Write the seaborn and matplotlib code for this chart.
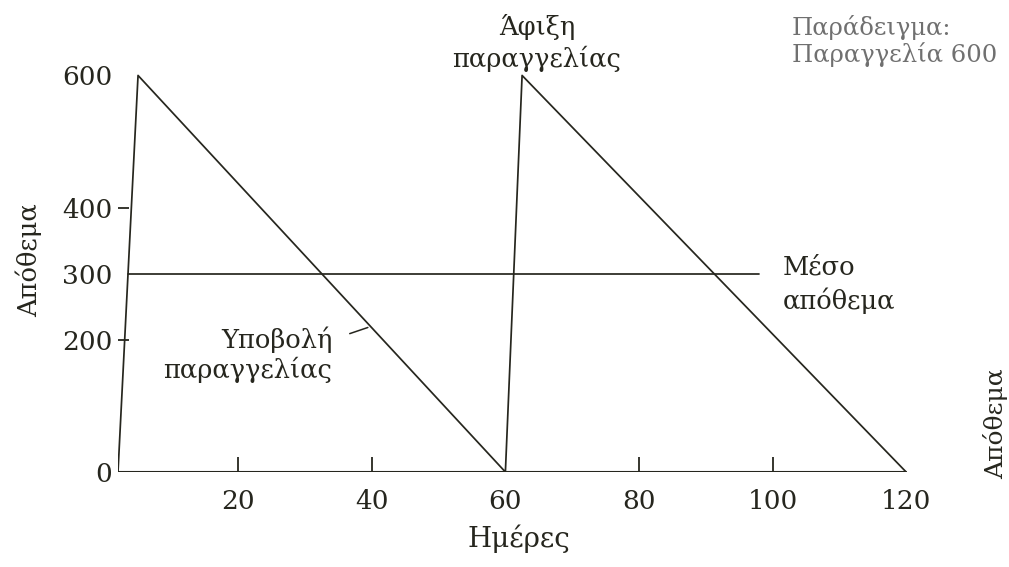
import numpy as np
import pandas as pd
import matplotlib
matplotlib.use("Agg")
import matplotlib.pyplot as plt
import seaborn as sns
from matplotlib.ticker import FixedLocator

# --- data ---
days = [2, 5, 60, 62.5, 120]
inventory = [0, 600, 0, 600, 0]
avg_days = [3.5, 98]
avg_level = [300, 300]
base_days = [2, 120]
base_level = [0, 0]
x_ticks = [20, 40, 60, 80, 100, 120]
x_tick_marks = [20, 40, 80, 100]
y_ticks = [0, 200, 300, 400, 600]
y_tick_marks = [200, 400]

sns.set_theme(style="white")
plt.rcParams["font.family"] = ["DejaVu Serif", "DejaVu Sans"]

ink = "#26261e"
fig = plt.figure(figsize=(10.09, 5.67), dpi=100)
ax = fig.add_axes([118 / 1009, 95 / 567, 801.5 / 1009, 423 / 567])

saw = pd.DataFrame({"Ημέρες": days, "Απόθεμα": inventory})
sns.lineplot(data=saw, x="Ημέρες", y="Απόθεμα", sort=False, ax=ax,
             color=ink, linewidth=1.25, estimator=None)
avg = pd.DataFrame({"x": avg_days, "y": avg_level})
sns.lineplot(data=avg, x="x", y="y", sort=False, ax=ax, color=ink,
             linewidth=1.25, estimator=None)
base = pd.DataFrame({"x": base_days, "y": base_level})
sns.lineplot(data=base, x="x", y="y", sort=False, ax=ax, color=ink,
             linewidth=1.5, estimator=None)

ax.set_xlim(2, 122)
ax.set_ylim(0, 640)
for s in ax.spines.values():
    s.set_visible(False)

ax.xaxis.remove_overlapping_locs = False
ax.yaxis.remove_overlapping_locs = False
ax.set_xticks(x_ticks)
ax.set_xticklabels([str(v) for v in x_ticks])
ax.set_yticks(y_ticks)
ax.set_yticklabels([str(v) for v in y_ticks])
ax.xaxis.set_minor_locator(FixedLocator(x_tick_marks))
ax.yaxis.set_minor_locator(FixedLocator(y_tick_marks))
ax.tick_params(axis="x", which="major", length=0, pad=12, labelsize=19, labelcolor=ink)
ax.tick_params(axis="y", which="major", length=0, pad=4, labelsize=19, labelcolor=ink)
ax.tick_params(axis="x", which="minor", direction="in", length=11, width=1.3,
               color=ink, bottom=True)
ax.tick_params(axis="y", which="minor", direction="in", length=8, width=1.3,
               color=ink, left=True)

ax.set_xlabel("Ημέρες", fontsize=20, color=ink, labelpad=8)
ax.set_ylabel("Απόθεμα", fontsize=18.5, color=ink, labelpad=14)

ax.text(64.7, 613, "Άφιξη\nπαραγγελίας", ha="center", va="baseline",
        fontsize=18.5, color=ink, linespacing=1.25, clip_on=False)
ax.text(102.9, 620, "Παράδειγμα:\nΠαραγγελία 600", ha="left", va="baseline",
        fontsize=17.5, color="#707070", linespacing=1.11, clip_on=False)
ax.text(101.6, 247, "Μέσο\nαπόθεμα", ha="left", va="baseline",
        fontsize=18.5, color=ink, linespacing=1.36)
ax.text(34.1, 142, "Υποβολή\nπαραγγελίας", ha="right", va="baseline",
        fontsize=18.5, color=ink, linespacing=1.2)
ax.annotate("", xy=(39.8, 220), xytext=(36.3, 208),
            arrowprops=dict(arrowstyle="-", color=ink, lw=1.1))

fig.text(1008 / 1009, 1 - 424 / 567, "Απόθεμα", rotation=90, ha="right",
         va="center", fontsize=18, color=ink)

fig.savefig("out.png", dpi=100)
